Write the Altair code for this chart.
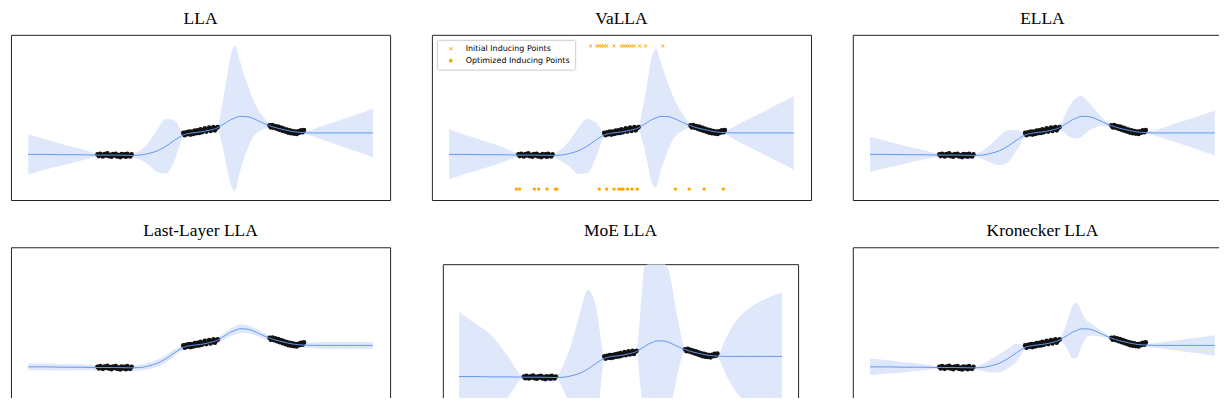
import altair as alt
import pandas as pd

# shared x grid of the predictive curves
xs = [-1.0, -0.9, -0.8, -0.7, -0.6, -0.5, -0.4, -0.35, -0.3, -0.25, -0.2, -0.15,
      -0.1, -0.05, 0.0, 0.05, 0.1, 0.125, 0.15, 0.175, 0.2, 0.225, 0.25, 0.275,
      0.3, 0.35, 0.4, 0.45, 0.5, 0.55, 0.6, 0.65, 0.7, 0.8, 0.9, 1.0]

# predictive mean (same MAP network for all methods)
mean = [-1.12, -1.12, -1.13, -1.13, -1.14, -1.14, -1.15, -1.14, -1.09, -1.01, -0.87, -0.69,
        -0.53, -0.47, -0.44, -0.39, -0.31, -0.23, -0.15, -0.07, -0.02, 0.03, 0.03, 0.02,
        -0.02, -0.14, -0.25, -0.33, -0.39, -0.44, -0.46, -0.47, -0.47, -0.47, -0.47, -0.47]

# half widths of the predictive band, one list per method
hw_lla = [0.61, 0.46, 0.32, 0.19, 0.06, 0.04, 0.06, 0.14, 0.35, 0.65, 0.83, 0.60,
          0.08, 0.04, 0.04, 0.04, 0.08, 0.60, 1.30, 1.95, 2.20, 1.75, 1.30, 0.95,
          0.62, 0.25, 0.06, 0.04, 0.04, 0.04, 0.05, 0.10, 0.20, 0.37, 0.55, 0.74]
hw_valla = [0.76, 0.58, 0.42, 0.25, 0.07, 0.04, 0.06, 0.18, 0.40, 0.70, 0.82, 0.55,
            0.08, 0.04, 0.04, 0.04, 0.08, 0.55, 1.20, 1.90, 2.10, 1.70, 1.30, 0.95,
            0.65, 0.28, 0.06, 0.04, 0.04, 0.04, 0.06, 0.18, 0.32, 0.58, 0.85, 1.11]
hw_ella = [0.53, 0.40, 0.27, 0.15, 0.05, 0.03, 0.04, 0.12, 0.28, 0.44, 0.48, 0.32,
           0.06, 0.03, 0.03, 0.03, 0.06, 0.22, 0.42, 0.55, 0.62, 0.63, 0.52, 0.40,
           0.30, 0.12, 0.04, 0.03, 0.03, 0.03, 0.04, 0.08, 0.16, 0.33, 0.50, 0.68]
hw_last = [0.10, 0.10, 0.10, 0.09, 0.08, 0.08, 0.08, 0.09, 0.10, 0.11, 0.11, 0.10,
           0.08, 0.08, 0.08, 0.08, 0.09, 0.10, 0.11, 0.12, 0.13, 0.13, 0.13, 0.12,
           0.11, 0.10, 0.08, 0.08, 0.08, 0.08, 0.08, 0.09, 0.10, 0.10, 0.10, 0.10]
hw_moe = [2.08, 1.71, 1.34, 0.69, 0.04, 0.03, 0.04, 0.45, 1.10, 1.95, 2.55, 1.80,
          0.10, 0.03, 0.03, 0.03, 0.05, 1.30, 2.60, 3.40, 3.80, 3.90, 3.70, 3.10,
          2.30, 1.00, 0.05, 0.03, 0.03, 0.03, 0.04, 0.55, 1.03, 1.56, 1.86, 2.06]
hw_kron = [0.25, 0.20, 0.15, 0.10, 0.04, 0.03, 0.04, 0.10, 0.20, 0.27, 0.30, 0.27,
           0.06, 0.03, 0.03, 0.03, 0.05, 0.20, 0.50, 0.80, 0.84, 0.55, 0.30, 0.20,
           0.15, 0.08, 0.04, 0.03, 0.03, 0.03, 0.04, 0.07, 0.10, 0.17, 0.24, 0.31]

# training data (three clusters)
data_x = [-0.598, -0.59, -0.582, -0.575, -0.567, -0.558, -0.55, -0.541, -0.533, -0.525,
          -0.517, -0.508, -0.5, -0.492, -0.484, -0.475, -0.466, -0.458, -0.45, -0.441,
          -0.433, -0.425, -0.417, -0.408, -0.4,
          -0.1, -0.092, -0.083, -0.075, -0.067, -0.058, -0.05, -0.042, -0.033, -0.025,
          -0.017, -0.008, 0.0, 0.008, 0.017, 0.025, 0.033, 0.042, 0.05, 0.058,
          0.067, 0.075, 0.083, 0.092, 0.1,
          0.4, 0.408, 0.417, 0.425, 0.433, 0.442, 0.45, 0.458, 0.467, 0.475,
          0.483, 0.492, 0.5, 0.508, 0.517, 0.525, 0.533, 0.542, 0.55, 0.558,
          0.567, 0.575, 0.583, 0.592, 0.6]
data_y = [-1.12, -1.17, -1.10, -1.14, -1.18, -1.11, -1.15, -1.09, -1.17, -1.13,
          -1.19, -1.11, -1.15, -1.10, -1.18, -1.14, -1.20, -1.11, -1.17, -1.12,
          -1.19, -1.10, -1.16, -1.18, -1.12,
          -0.47, -0.54, -0.45, -0.51, -0.43, -0.52, -0.43, -0.50, -0.40, -0.48,
          -0.39, -0.47, -0.36, -0.45, -0.39, -0.33, -0.43, -0.36, -0.31, -0.41,
          -0.35, -0.29, -0.39, -0.32, -0.29,
          -0.24, -0.30, -0.23, -0.31, -0.26, -0.34, -0.28, -0.37, -0.31, -0.40,
          -0.34, -0.43, -0.37, -0.46, -0.39, -0.48, -0.41, -0.49, -0.43, -0.50,
          -0.42, -0.46, -0.39, -0.45, -0.38]

# VaLLA inducing points
init_x = [-0.179, -0.144, -0.129, -0.115, -0.102, -0.086, -0.043, 0.0, 0.015, 0.029,
          0.042, 0.058, 0.073, 0.105, 0.14, 0.24]
init_y = 2.16
opt_x = [-0.61, -0.591, -0.505, -0.48, -0.432, -0.384, -0.374, -0.129, -0.086, -0.043,
         -0.014, 0.0, 0.009, 0.035, 0.061, 0.092, 0.313, 0.393, 0.48, 0.591]
opt_y = -2.17
kinds = ["Initial Inducing Points", "Optimized Inducing Points"]

BLUE = "#6495ED"
XSC = alt.Scale(domain=[-1.1, 1.1], nice=False, zero=False)
YSC = alt.Scale(domain=[-2.5, 2.5], nice=False, zero=False, clamp=True)
X_PATH = "M-1,-0.7L-0.7,-1L0,-0.3L0.7,-1L1,-0.7L0.3,0L1,0.7L0.7,1L0,0.3L-0.7,1L-1,0.7L-0.3,0Z"
TITLE_OFF = -6.5

pts_df = pd.DataFrame({"x": data_x, "y": data_y})


def ttl(text):
    return alt.Title(text, font="Liberation Serif", fontSize=17.5, fontWeight="normal",
                     color="black", baseline="alphabetic", offset=TITLE_OFF, anchor="middle")


def panel(title, hw, w, h, extra=None):
    df = pd.DataFrame({
        "x": xs,
        "mean": mean,
        "lo": [m - d for m, d in zip(mean, hw)],
        "hi": [m + d for m, d in zip(mean, hw)],
    })
    X = alt.X("x:Q", scale=XSC, axis=None)
    band = alt.Chart(df).mark_area(color="#dfe8fb", opacity=1, interpolate="monotone", clip=True).encode(
        x=X, y=alt.Y("lo:Q", scale=YSC, axis=None), y2="hi:Q")
    pts = alt.Chart(pts_df).mark_circle(color="#111111", size=22, opacity=1, clip=True).encode(
        x=X, y=alt.Y("y:Q", scale=YSC, axis=None))
    line = alt.Chart(df).mark_line(color=BLUE, strokeWidth=1, interpolate="monotone", clip=True).encode(
        x=X, y=alt.Y("mean:Q", scale=YSC, axis=None))
    layers = [band, pts, line] + (extra or [])
    props = dict(width=w, height=h)
    if title:
        props["title"] = ttl(title)
    return alt.layer(*layers).properties(**props)


ind_df = pd.DataFrame({
    "x": init_x + opt_x,
    "y": [init_y] * len(init_x) + [opt_y] * len(opt_x),
    "kind": [kinds[0]] * len(init_x) + [kinds[1]] * len(opt_x),
})
inducing = alt.Chart(ind_df).mark_point(filled=True, opacity=1, size=12, clip=True).encode(
    x=alt.X("x:Q", scale=XSC, axis=None),
    y=alt.Y("y:Q", scale=YSC, axis=None),
    color=alt.Color("kind:N", scale=alt.Scale(domain=kinds, range=["#FFA500", "#FFA500"]),
                    legend=alt.Legend(title=None, orient="top-left", offset=5,
                                      labelFont="DejaVu Sans", labelFontSize=8, labelColor="black",
                                      symbolSize=14, symbolOpacity=1, padding=5, rowPadding=4,
                                      labelOffset=11, symbolOffset=5,
                                      fillColor="white", strokeColor="#cccccc", cornerRadius=2)),
    shape=alt.Shape("kind:N", scale=alt.Scale(domain=kinds, range=[X_PATH, "circle"]), legend=None),
)

W, H = 381, 166
p_lla = panel("LLA", hw_lla, W, H)
p_valla = panel("VaLLA", hw_valla, W, H, [inducing])
p_ella = panel("ELLA", hw_ella, W, H)
p_last = panel("Last-Layer LLA", hw_last, W, H)
p_moe = panel(None, hw_moe, 357, 156)
p_kron = panel("Kronecker LLA", hw_kron, W, H)

# empty strip carrying the MoE title, so that the smaller MoE frame sits lower
moe_head = alt.Chart(pd.DataFrame({"x": [0]})).mark_point(opacity=0).encode(
    x=alt.X("x:Q", axis=None), y=alt.Y("x:Q", axis=None)).properties(
    width=357, height=15, title=ttl("MoE LLA"), view=alt.ViewBackground(stroke="transparent"))
moe_col = alt.vconcat(moe_head, p_moe, spacing=0)

row1 = alt.hconcat(p_lla, p_valla, p_ella, spacing=40).resolve_scale(
    color="independent", shape="independent").resolve_legend(color="independent", shape="independent")
row2 = alt.hconcat(p_last, alt.hconcat(moe_col, p_kron, spacing=53), spacing=51)

chart = alt.vconcat(row1, row2, spacing=20.5).resolve_scale(
    color="independent", shape="independent").resolve_legend(
    color="independent", shape="independent").properties(
    padding={"left": 2, "top": 0, "right": -14, "bottom": -23.3}).configure_view(
    stroke="#222222", strokeWidth=1)

chart.save("out.html", embed_options={"renderer": "svg", "actions": False})
